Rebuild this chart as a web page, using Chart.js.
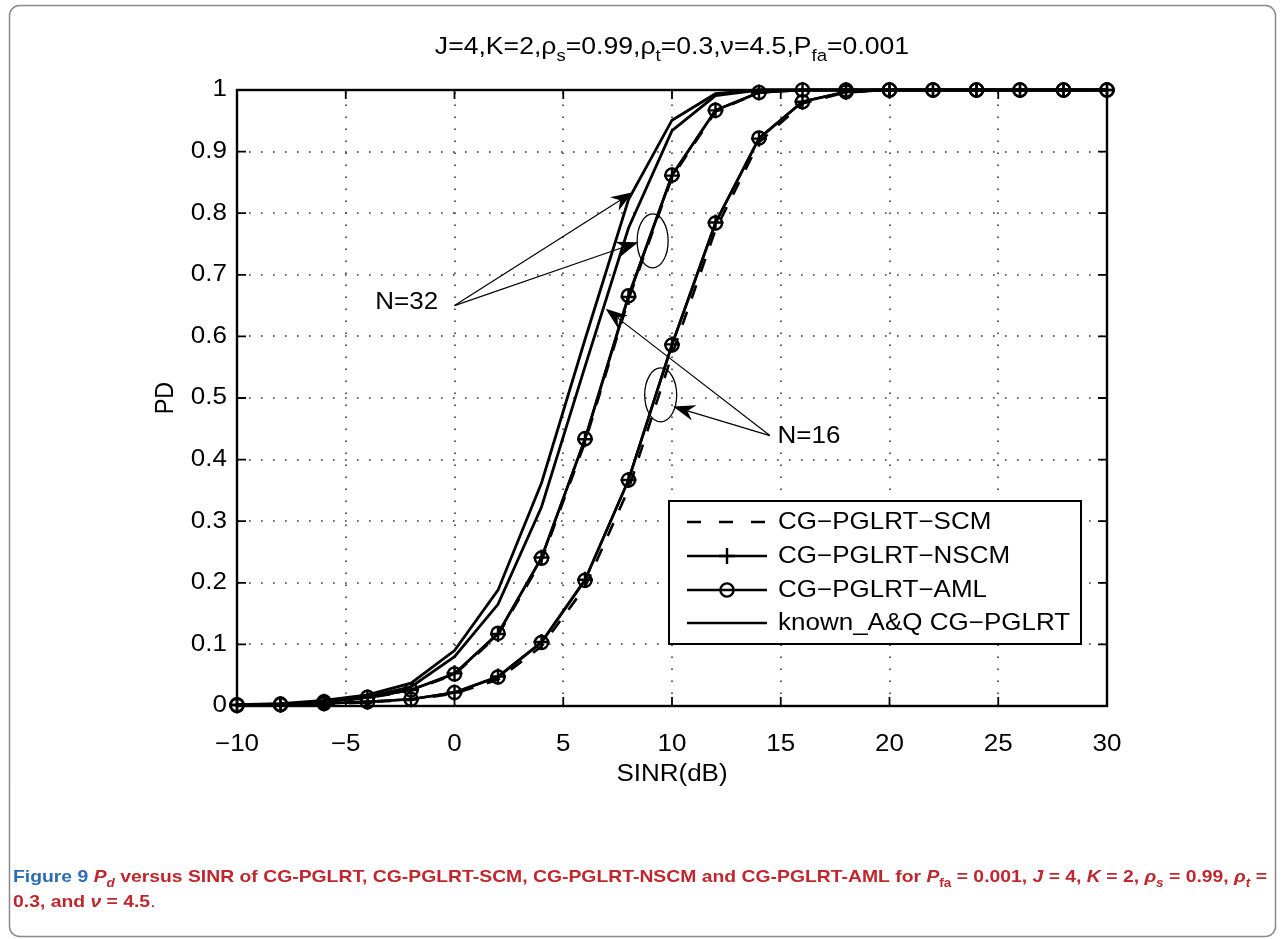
<!DOCTYPE html>
<html>
<head>
<meta charset="utf-8">
<script src="https://cdn.jsdelivr.net/npm/chart.js@4.4.1/dist/chart.umd.min.js"></script>
<style>
  html, body { margin: 0; padding: 0; background: #fff; }
  #wrap { position: relative; width: 1284px; height: 939px; }
</style>
</head>
<body>
<div id="wrap"><canvas id="chart" width="1284" height="939"></canvas></div>
<script>
// values
const sinr = [-10, -8, -6, -4, -2, 0, 2, 4, 6, 8, 10, 12, 14, 16, 18, 20, 22, 24, 26, 28, 30];

const knownN32 = [0.002, 0.004, 0.009, 0.018, 0.037, 0.090, 0.188, 0.362, 0.595, 0.822, 0.951, 0.994, 1, 1, 1, 1, 1, 1, 1, 1, 1];
const knownN16 = [0.001, 0.003, 0.007, 0.015, 0.031, 0.080, 0.165, 0.323, 0.551, 0.776, 0.934, 0.991, 1, 1, 1, 1, 1, 1, 1, 1, 1];

const scmN32  = [0.002, 0.003, 0.006, 0.013, 0.025, 0.051, 0.115, 0.236, 0.428, 0.660, 0.858, 0.965, 0.996, 1, 1, 1, 1, 1, 1, 1, 1];
const nscmN32 = [0.002, 0.003, 0.007, 0.014, 0.026, 0.053, 0.117, 0.241, 0.433, 0.664, 0.861, 0.967, 0.996, 1, 1, 1, 1, 1, 1, 1, 1];
const amlN32  = [0.002, 0.003, 0.007, 0.014, 0.026, 0.052, 0.118, 0.240, 0.434, 0.666, 0.862, 0.967, 0.996, 1, 1, 1, 1, 1, 1, 1, 1];

const scmN16  = [0.001, 0.002, 0.003, 0.006, 0.010, 0.020, 0.043, 0.097, 0.193, 0.352, 0.570, 0.773, 0.915, 0.978, 0.996, 1, 1, 1, 1, 1, 1];
const nscmN16 = [0.001, 0.002, 0.004, 0.007, 0.011, 0.022, 0.048, 0.104, 0.205, 0.367, 0.587, 0.785, 0.921, 0.981, 0.997, 1, 1, 1, 1, 1, 1];
const amlN16  = [0.001, 0.002, 0.004, 0.007, 0.011, 0.022, 0.047, 0.103, 0.204, 0.367, 0.586, 0.784, 0.922, 0.981, 0.997, 1, 1, 1, 1, 1, 1];

const legendLabels = ["CG\u2212PGLRT\u2212SCM", "CG\u2212PGLRT\u2212NSCM", "CG\u2212PGLRT\u2212AML", "known_A&Q CG\u2212PGLRT"];
const xTicks = [-10, -5, 0, 5, 10, 15, 20, 25, 30];
const yTicks = [0, 0.1, 0.2, 0.3, 0.4, 0.5, 0.6, 0.7, 0.8, 0.9, 1];

const FONT = "'Liberation Sans', Arial, Helvetica, sans-serif";
const NARROW = "'Liberation Sans Narrow', 'Liberation Sans', Arial, sans-serif";
const SQ = 0.9; // the source figure is squeezed a little vertically

function points(values) {
  return sinr.map((x, i) => ({ x: x, y: values[i] }));
}

const styles = {
  scm: { borderColor: "#000", borderWidth: 2.6, borderDash: [14, 14], pointRadius: 0 },
  nscm: { borderColor: "#000", borderWidth: 2.6, pointStyle: "cross", pointRadius: 8, pointBorderWidth: 2.4, pointBorderColor: "#000" },
  aml: { borderColor: "#000", borderWidth: 2.6, pointStyle: "circle", pointRadius: 6.6, pointBorderWidth: 2.4, pointBorderColor: "#000", pointBackgroundColor: "rgba(0,0,0,0)" },
  known: { borderColor: "#000", borderWidth: 2.8, pointRadius: 0 },
};

function dataset(label, values, style) {
  return Object.assign({ label: label, data: points(values), tension: 0, clip: 12, fill: false }, style);
}

function text(ctx, t, x, y, align, size) {
  ctx.save();
  ctx.translate(x, y);
  ctx.scale(1, SQ);
  ctx.font = `${size || 26}px ${FONT}`;
  ctx.textAlign = align;
  ctx.textBaseline = "middle";
  ctx.fillText(t, 0, 0);
  ctx.restore();
}

function measureRich(ctx, segs, size, family) {
  let total = 0;
  segs.forEach((s) => {
    const sz = s.sub ? size * 0.7 : size;
    ctx.font = `${s.it ? "italic " : ""}${s.b ? "bold " : ""}${sz}px ${family}`;
    total += ctx.measureText(s.t).width;
  });
  return total;
}

function drawRich(ctx, segs, x, y, size, family) {
  let cx = x;
  ctx.textAlign = "left";
  ctx.textBaseline = "alphabetic";
  segs.forEach((s) => {
    const sz = s.sub ? size * 0.7 : size;
    ctx.font = `${s.it ? "italic " : ""}${s.b ? "bold " : ""}${sz}px ${family}`;
    ctx.fillStyle = s.c || "#000";
    ctx.fillText(s.t, cx, s.sub ? y + size * 0.3 : y);
    cx += ctx.measureText(s.t).width;
  });
}

function arrow(ctx, x0, y0, x1, y1) {
  const a = Math.atan2(y1 - y0, x1 - x0);
  const dx = Math.cos(a), dy = Math.sin(a);
  const L = 22, W = 8, N = 15;
  ctx.beginPath();
  ctx.moveTo(x0, y0);
  ctx.lineTo(x1 - dx * N, y1 - dy * N);
  ctx.lineWidth = 1.2;
  ctx.stroke();
  ctx.beginPath();
  ctx.moveTo(x1, y1);
  ctx.lineTo(x1 - dx * L - dy * W, y1 - dy * L + dx * W);
  ctx.lineTo(x1 - dx * N, y1 - dy * N);
  ctx.lineTo(x1 - dx * L + dy * W, y1 - dy * L - dx * W);
  ctx.closePath();
  ctx.fill();
}

const matlabDecor = {
  id: "matlabDecor",
  beforeDatasetsDraw(chart) {
    const { ctx, chartArea: a, scales } = chart;
    ctx.save();
    ctx.strokeStyle = "#333";
    ctx.lineWidth = 1.6;
    ctx.setLineDash([1.6, 10.4]);
    scales.x.ticks.slice(1, -1).forEach((t) => {
      const px = Math.round(scales.x.getPixelForValue(t.value));
      ctx.beginPath(); ctx.moveTo(px, a.bottom); ctx.lineTo(px, a.top); ctx.stroke();
    });
    scales.y.ticks.slice(1, -1).forEach((t) => {
      const py = Math.round(scales.y.getPixelForValue(t.value));
      ctx.beginPath(); ctx.moveTo(a.left, py); ctx.lineTo(a.right, py); ctx.stroke();
    });
    ctx.restore();
  },
  afterDatasetsDraw(chart) {
    const { ctx, chartArea: a, scales } = chart;
    const X = (v) => scales.x.getPixelForValue(v);
    const Y = (v) => scales.y.getPixelForValue(v);
    ctx.save();

    // axes box, inward ticks, tick labels
    ctx.strokeStyle = "#000";
    ctx.fillStyle = "#000";
    ctx.lineWidth = 2.4;
    ctx.strokeRect(a.left, a.top, a.right - a.left, a.bottom - a.top);
    ctx.lineWidth = 1.8;
    const tl = 9;
    scales.x.ticks.forEach((t) => {
      const px = X(t.value);
      ctx.beginPath();
      ctx.moveTo(px, a.bottom); ctx.lineTo(px, a.bottom - tl);
      ctx.moveTo(px, a.top); ctx.lineTo(px, a.top + tl);
      ctx.stroke();
      const lab = t.value < 0 ? "\u2212" + Math.abs(t.value) : String(t.value);
      text(ctx, lab, px, a.bottom + 39, "center");
    });
    scales.y.ticks.forEach((t) => {
      const py = Y(t.value);
      ctx.beginPath();
      ctx.moveTo(a.left, py); ctx.lineTo(a.left + tl, py);
      ctx.moveTo(a.right, py); ctx.lineTo(a.right - tl, py);
      ctx.stroke();
      text(ctx, String(Number(t.value.toFixed(1))), a.left - 10, py, "right");
    });

    // annotations
    const o32 = [X(0), Y(0.65)];
    arrow(ctx, o32[0], o32[1], X(8.2), Y(0.834));
    arrow(ctx, o32[0], o32[1], X(8.45), Y(0.753));
    const o16 = [X(14.5), Y(0.439)];
    arrow(ctx, o16[0], o16[1], X(6.95), Y(0.645));
    arrow(ctx, o16[0], o16[1], X(10.05), Y(0.486));
    ctx.lineWidth = 1.3;
    ctx.beginPath();
    ctx.ellipse(X(9.11), Y(0.755), 15.5, 27, 0, 0, Math.PI * 2);
    ctx.stroke();
    ctx.beginPath();
    ctx.ellipse(X(9.48), Y(0.505), 16, 27, 0, 0, Math.PI * 2);
    ctx.stroke();
    text(ctx, "N=32", X(-0.75), Y(0.655), "right");
    text(ctx, "N=16", X(14.85), Y(0.437), "left");

    // legend
    const lx = 669, ly = 501, lw = 412, lh = 143;
    ctx.fillStyle = "#fff";
    ctx.fillRect(lx, ly, lw, lh);
    ctx.strokeStyle = "#000";
    ctx.lineWidth = 2;
    ctx.strokeRect(lx, ly, lw, lh);
    const rows = [522, 556, 590, 623];
    const s0 = 687, s1 = 767, sm = 727;
    ctx.lineWidth = 2.6;
    rows.forEach((ry, i) => {
      ctx.beginPath();
      ctx.setLineDash(i === 0 ? [14, 18] : []);
      ctx.moveTo(s0, ry); ctx.lineTo(s1, ry);
      ctx.stroke();
    });
    ctx.setLineDash([]);
    ctx.lineWidth = 2.4;
    ctx.beginPath();
    ctx.moveTo(sm, rows[1] - 8); ctx.lineTo(sm, rows[1] + 8);
    ctx.moveTo(sm - 8, rows[1]); ctx.lineTo(sm + 8, rows[1]);
    ctx.stroke();
    ctx.beginPath();
    ctx.arc(sm, rows[2], 6.6, 0, Math.PI * 2);
    ctx.stroke();
    ctx.fillStyle = "#000";
    legendLabels.forEach((t, i) => text(ctx, t, 778, rows[i] + 1, "left"));

    // title with subscripts
    const titleSegs = [
      { t: "J=4,K=2,\u03c1" }, { t: "s", sub: true },
      { t: "=0.99,\u03c1" }, { t: "t", sub: true },
      { t: "=0.3,\u03bd=4.5,P" }, { t: "fa", sub: true },
      { t: "=0.001" },
    ];
    const tw = measureRich(ctx, titleSegs, 26.6, FONT);
    ctx.save();
    ctx.translate((a.left + a.right) / 2 - tw / 2, 54);
    ctx.scale(1, SQ);
    drawRich(ctx, titleSegs, 0, 0, 26.6, FONT);
    ctx.restore();

    // axis titles
    text(ctx, "SINR(dB)", (a.left + a.right) / 2, a.bottom + 69, "center");
    ctx.save();
    ctx.translate(166, (a.top + a.bottom) / 2);
    ctx.rotate(-Math.PI / 2);
    ctx.scale(SQ, 1);
    ctx.font = `26px ${FONT}`;
    ctx.textAlign = "center";
    ctx.textBaseline = "middle";
    ctx.fillStyle = "#000";
    ctx.fillText("PD", 0, 0);
    ctx.restore();

    // outer frame
    ctx.strokeStyle = "#8a8a8a";
    ctx.lineWidth = 1.5;
    ctx.beginPath();
    ctx.roundRect(9.5, 5.5, 1266, 931, 10);
    ctx.stroke();

    // caption
    const blue = "#2a6db5", red = "#c0272d";
    const line1 = [
      { t: "Figure 9 ", b: true, c: blue },
      { t: "P", b: true, it: true, c: red }, { t: "d", b: true, it: true, sub: true, c: red },
      { t: " versus SINR of CG-PGLRT, CG-PGLRT-SCM, CG-PGLRT-NSCM and CG-PGLRT-AML for ", b: true, c: red },
      { t: "P", b: true, it: true, c: red }, { t: "fa", b: true, sub: true, c: red },
      { t: " = 0.001, ", b: true, c: red },
      { t: "J", b: true, it: true, c: red }, { t: " = 4, ", b: true, c: red },
      { t: "K", b: true, it: true, c: red }, { t: " = 2, ", b: true, c: red },
      { t: "\u03c1", b: true, it: true, c: red }, { t: "s", b: true, it: true, sub: true, c: red },
      { t: " = 0.99, ", b: true, c: red },
      { t: "\u03c1", b: true, it: true, c: red }, { t: "t", b: true, it: true, sub: true, c: red },
      { t: " =", b: true, c: red },
    ];
    const line2 = [
      { t: "0.3, and ", b: true, c: red },
      { t: "\u03bd", b: true, it: true, c: red },
      { t: " = 4.5", b: true, c: red },
      { t: ".", c: red },
    ];
    const capSize = 17;
    const sx = 1254 / measureRich(ctx, line1, capSize, NARROW);
    ctx.save();
    ctx.translate(13, 0);
    ctx.scale(sx, 1);
    drawRich(ctx, line1, 0, 882, capSize, NARROW);
    drawRich(ctx, line2, 0, 907, capSize, NARROW);
    ctx.restore();

    ctx.restore();
  },
};

new Chart(document.getElementById("chart"), {
  type: "line",
  data: {
    datasets: [
      dataset("CG-PGLRT-SCM N=32", scmN32, styles.scm),
      dataset("CG-PGLRT-NSCM N=32", nscmN32, styles.nscm),
      dataset("CG-PGLRT-AML N=32", amlN32, styles.aml),
      dataset("known_A&Q CG-PGLRT N=32", knownN32, styles.known),
      dataset("CG-PGLRT-SCM N=16", scmN16, styles.scm),
      dataset("CG-PGLRT-NSCM N=16", nscmN16, styles.nscm),
      dataset("CG-PGLRT-AML N=16", amlN16, styles.aml),
      dataset("known_A&Q CG-PGLRT N=16", knownN16, styles.known),
    ],
  },
  options: {
    responsive: false,
    animation: false,
    devicePixelRatio: 1,
    layout: { padding: { top: 90, right: 177, bottom: 0, left: 0 } },
    plugins: { legend: { display: false }, tooltip: { enabled: false }, title: { display: false } },
    scales: {
      x: {
        type: "linear", min: -10, max: 30,
        grid: { display: false }, border: { display: false },
        ticks: { display: false },
        afterFit: (s) => { s.height = 233; },
        afterBuildTicks: (s) => { s.ticks = xTicks.map((v) => ({ value: v })); },
      },
      y: {
        type: "linear", min: 0, max: 1,
        grid: { display: false }, border: { display: false },
        ticks: { display: false },
        afterFit: (s) => { s.width = 237; },
        afterBuildTicks: (s) => { s.ticks = yTicks.map((v) => ({ value: v })); },
      },
    },
  },
  plugins: [matlabDecor],
});
</script>
</body>
</html>
